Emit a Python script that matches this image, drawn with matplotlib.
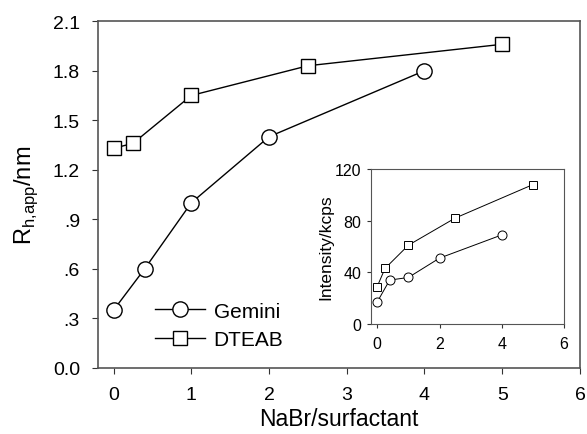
import matplotlib.pyplot as plt

plt.rcParams['font.family'] = ['Liberation Sans', 'DejaVu Sans']

# hydrodynamic radius vs NaBr/surfactant ratio
gemini_x = [0, 0.4, 1, 2, 4]
gemini_rh = [0.35, 0.60, 1.00, 1.40, 1.80]
dteab_x = [0, 0.25, 1, 2.5, 5]
dteab_rh = [1.33, 1.36, 1.65, 1.83, 1.96]

# scattered light intensity (inset)
gemini_int = [17, 34, 36, 51, 69]
dteab_int = [29, 43, 61, 82, 108]

y_ticks = [0.0, 0.3, 0.6, 0.9, 1.2, 1.5, 1.8, 2.1]
y_labels = ["0.0", ".3", ".6", ".9", "1.2", "1.5", "1.8", "2.1"]

fig = plt.figure(figsize=(5.87, 4.35), dpi=100)
ax = fig.add_axes([0.167, 0.152, 0.821, 0.797])

ax.plot(gemini_x, gemini_rh, '-o', color='black', lw=1, ms=11,
        mfc='white', mec='black', mew=1, label='Gemini')
ax.plot(dteab_x, dteab_rh, '-s', color='black', lw=1, ms=10,
        mfc='white', mec='black', mew=1, label='DTEAB')

ax.set_xlim(-0.2, 6.0)
ax.set_ylim(0, 2.1)
ax.set_xticks(range(0, 7))
ax.set_yticks(y_ticks)
ax.set_yticklabels(y_labels)
ax.tick_params(labelsize=14, direction='out', length=4, color='#333333')
ax.tick_params(axis='x', pad=9)
ax.tick_params(axis='y', pad=9)
for s in ax.spines.values():
    s.set_color('#555555')
    s.set_linewidth(1.2)
ax.set_xlabel('NaBr/surfactant', fontsize=16.5, labelpad=3)
ax.set_ylabel(r'R$_{\mathregular{h{,}app}}$/nm', fontsize=17, labelpad=9)

ax.legend(loc='lower left', bbox_to_anchor=(0.08, 0.0), frameon=False,
          fontsize=15, handlelength=2.4, handletextpad=0.4, labelspacing=0.45)

# inset: intensity
ins = fig.add_axes([0.632, 0.253, 0.329, 0.356])
ins.plot(gemini_x, gemini_int, '-o', color='black', lw=0.7, ms=6.5,
         mfc='white', mec='black', mew=0.7)
ins.plot(dteab_x, dteab_int, '-s', color='black', lw=0.7, ms=5.5,
         mfc='white', mec='black', mew=0.7)
ins.set_xlim(-0.2, 6.0)
ins.set_ylim(0, 120)
ins.set_xticks([0, 2, 4, 6])
ins.set_yticks([0, 40, 80, 120])
ins.tick_params(labelsize=11.5, direction='out', length=3, color='#333333', pad=4)
ins.tick_params(axis='x', pad=6)
for s in ins.spines.values():
    s.set_color('#555555')
    s.set_linewidth(0.8)
ins.set_ylabel('Intensity/kcps', fontsize=12.5, labelpad=1)

fig.savefig('out.png', dpi=100)
